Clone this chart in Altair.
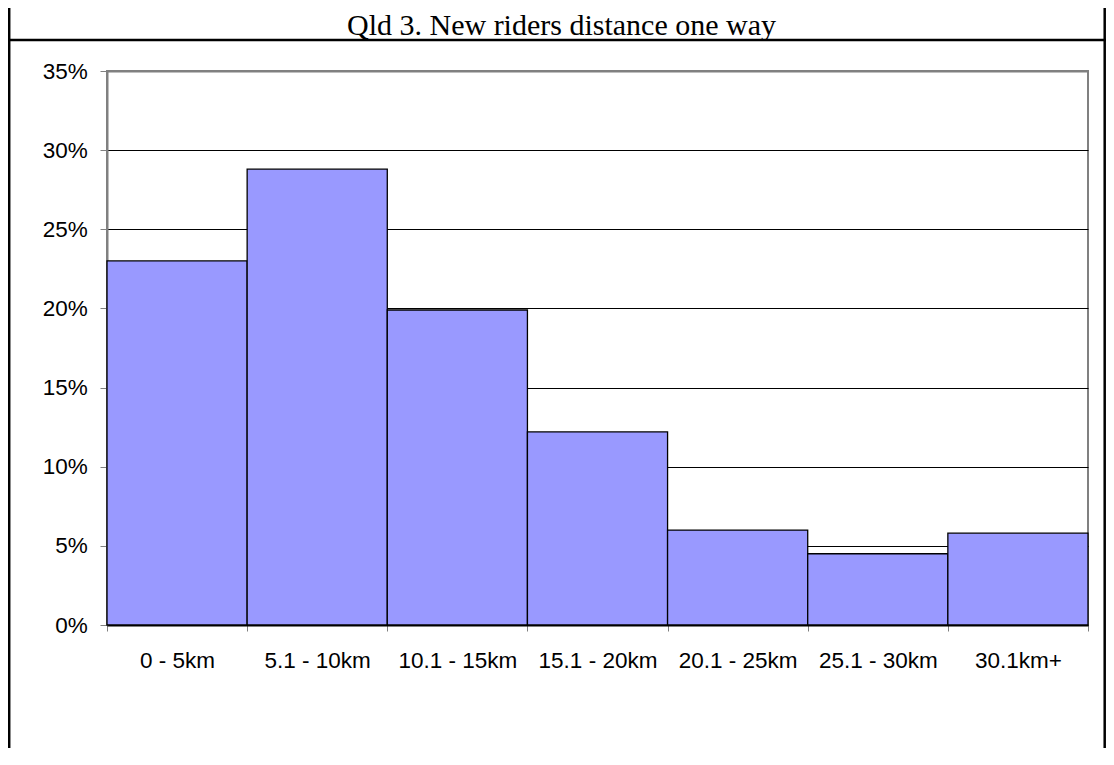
import altair as alt
import pandas as pd

title_text = "Qld 3. New riders distance one way"
categories = ["0 - 5km", "5.1 - 10km", "10.1 - 15km", "15.1 - 20km",
              "20.1 - 25km", "25.1 - 30km", "30.1km+"]
shares = [0.230, 0.288, 0.199, 0.122, 0.060, 0.045, 0.058]
y_ticks = [0.0, 0.05, 0.10, 0.15, 0.20, 0.25, 0.30, 0.35]

W, H = 981, 554
PAD_L, PAD_T, PAD_R, PAD_B = 99, 63, 18, 123

bars_df = pd.DataFrame({"cat": categories, "share": shares})
one = pd.DataFrame({"t": [title_text]})

bars = alt.Chart(bars_df).mark_bar(
    color="#9999FF", stroke="black", strokeWidth=1.3
).encode(
    x=alt.X("cat:N", sort=categories,
            scale=alt.Scale(paddingInner=0, paddingOuter=0),
            axis=alt.Axis(title=None, labelAngle=0, tickBand="extent",
                          labelFont="Liberation Sans", labelFontSize=22.5,
                          labelColor="black", labelOverlap=False,
                          domainColor="black", domainWidth=2,
                          tickColor="#808080", tickSize=6, tickWidth=1,
                          labelPadding=18, grid=False)),
    y=alt.Y("share:Q",
            scale=alt.Scale(domain=[0, 0.35], nice=False, zero=True),
            axis=alt.Axis(title=None, values=y_ticks, format=".0%",
                          labelFont="Liberation Sans", labelFontSize=22.5,
                          labelColor="black", labelPadding=12.7,
                          tickColor="#808080", tickSize=7, tickWidth=1,
                          domainColor="#808080", domainWidth=2,
                          grid=True,
                          gridColor=alt.condition("datum.value >= 0.349",
                                                  alt.value("#808080"),
                                                  alt.value("black")),
                          gridWidth=alt.condition("datum.value >= 0.349",
                                                  alt.value(2),
                                                  alt.value(1)))),
)

title = alt.Chart(one).mark_text(
    font="Liberation Serif", fontSize=30, color="black",
    align="center", baseline="alphabetic"
).encode(text="t:N", x=alt.value(454.5), y=alt.value(-36))

sep = alt.Chart(one).mark_rule(color="black", strokeWidth=2.7).encode(
    x=alt.value(-PAD_L), x2=alt.value(W + PAD_R), y=alt.value(-31))

left_border = alt.Chart(one).mark_rule(color="black", strokeWidth=2.5).encode(
    x=alt.value(-PAD_L + 1.2), y=alt.value(-PAD_T), y2=alt.value(H + PAD_B))

right_border = alt.Chart(one).mark_rule(color="black", strokeWidth=2.5).encode(
    x=alt.value(W + PAD_R - 1.3), y=alt.value(-PAD_T), y2=alt.value(H + PAD_B))

chart = alt.layer(bars, title, sep, left_border, right_border).properties(
    width=W, height=H,
    autosize=alt.AutoSizeParams(type="none"),
    padding={"left": PAD_L, "top": PAD_T, "right": PAD_R, "bottom": PAD_B},
    background="white",
).configure_view(stroke="#808080", strokeWidth=2)

chart.save("out.html", embed_options={"renderer": "svg", "actions": False})
